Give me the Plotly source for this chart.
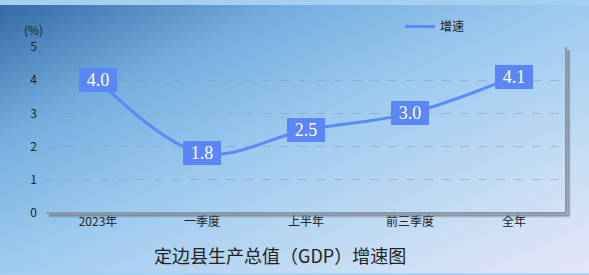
import plotly.graph_objects as go
import urllib.parse

categories = ["2023年", "一季度", "上半年", "前三季度", "全年"]
growth = [4.0, 1.8, 2.5, 3.0, 4.1]
series_name = "增速"
title_text = "定边县生产总值（GDP）增速图"
unit_text = "(%)"

W, H = 589, 275
L, R, T, B = 46, 23, 43, 62
pw, ph = W - L - R, H - T - B

svg = (
    "<svg xmlns='http://www.w3.org/2000/svg' width='589' height='275'>"
    "<defs><linearGradient id='g' x1='0' y1='0' x2='1' y2='1'>"
    "<stop offset='0' stop-color='#356aa5'/>"
    "<stop offset='0.25' stop-color='#74aede'/>"
    "<stop offset='0.5' stop-color='#9fcbef'/>"
    "<stop offset='0.78' stop-color='#c6ddf4'/>"
    "<stop offset='1' stop-color='#e6e6f8'/>"
    "</linearGradient></defs>"
    "<rect width='589' height='275' fill='url(#g)'/></svg>"
)
bg_uri = "data:image/svg+xml;charset=utf-8," + urllib.parse.quote(svg)

fig = go.Figure()
fig.add_trace(go.Scatter(
    x=categories, y=growth, name=series_name, mode="lines",
    line=dict(color="#5b8af7", width=3, shape="spline", smoothing=1.0),
    hoverinfo="skip",
))

for c, v in zip(categories, growth):
    fig.add_annotation(
        x=c, y=v, xref="x", yref="y", text=f"{v:.1f}", showarrow=False,
        font=dict(family="Liberation Serif", size=18, color="white"),
        bgcolor="#5b86f6", bordercolor="#5b86f6", borderwidth=1, borderpad=2,
        width=32, height=18,
    )

fig.add_annotation(x=(33 - L) / pw, y=1 + (T - 25) / ph, xref="paper", yref="paper",
                   text=unit_text, showarrow=False, xanchor="center", yanchor="middle",
                   font=dict(family="Noto Sans CJK SC", size=12, color="#222"))

fig.add_annotation(x=(280 - L) / pw, y=-(256 - T - ph) / ph, xref="paper", yref="paper",
                   text=title_text, showarrow=False, xanchor="center", yanchor="middle",
                   font=dict(family="Noto Sans CJK SC", size=18, color="#222"))

# shadows on right and bottom edges of the plot area
for off, op in [(4, 0.12), (3, 0.25), (2, 0.45)]:
    fig.add_shape(type="line", xref="paper", yref="paper",
                  x0=1 + off / pw, x1=1 + off / pw, y0=1 - 3 / ph, y1=-off / ph,
                  line=dict(color=f"rgba(90,100,115,{op})", width=2))
    fig.add_shape(type="line", xref="paper", yref="paper",
                  x0=3 / pw, x1=1 + off / pw, y0=-off / ph, y1=-off / ph,
                  line=dict(color=f"rgba(90,100,115,{op})", width=2))
fig.add_shape(type="line", xref="paper", yref="paper", x0=1, x1=1, y0=1, y1=0,
              line=dict(color="#8c98a6", width=2))
fig.add_shape(type="line", xref="paper", yref="paper", x0=0, x1=1, y0=0, y1=0,
              line=dict(color="#8c98a6", width=2))

fig.add_layout_image(dict(
    source=bg_uri, xref="paper", yref="paper",
    x=-L / pw, y=1 + T / ph, sizex=W / pw, sizey=H / ph,
    xanchor="left", yanchor="top", sizing="stretch", layer="below",
))

fig.update_layout(
    width=W, height=H,
    margin=dict(l=L, r=R, t=T, b=B),
    paper_bgcolor="#a5cff0",
    plot_bgcolor="rgba(255,255,255,0.08)",
    showlegend=True,
    legend=dict(orientation="h", x=(400 - L) / pw, y=1 + (T - 22) / ph,
                xanchor="left", yanchor="middle", bgcolor="rgba(0,0,0,0)",
                font=dict(family="Noto Sans CJK SC", size=12, color="#222")),
    font=dict(family="Noto Sans CJK SC", size=12, color="#222"),
    xaxis=dict(showgrid=False, zeroline=False, showline=False, ticks="",
               range=[-0.5, len(categories) - 0.5],
               tickfont=dict(size=12, color="#222"), fixedrange=True),
    yaxis=dict(range=[0, 5], dtick=1, showgrid=True, gridcolor="rgba(140,155,175,0.55)",
               griddash="dash", gridwidth=1, zeroline=False, showline=False, ticks="",
               ticklabelstandoff=8, tickfont=dict(size=12, color="#222"), fixedrange=True),
)

fig.write_html("out.html")
